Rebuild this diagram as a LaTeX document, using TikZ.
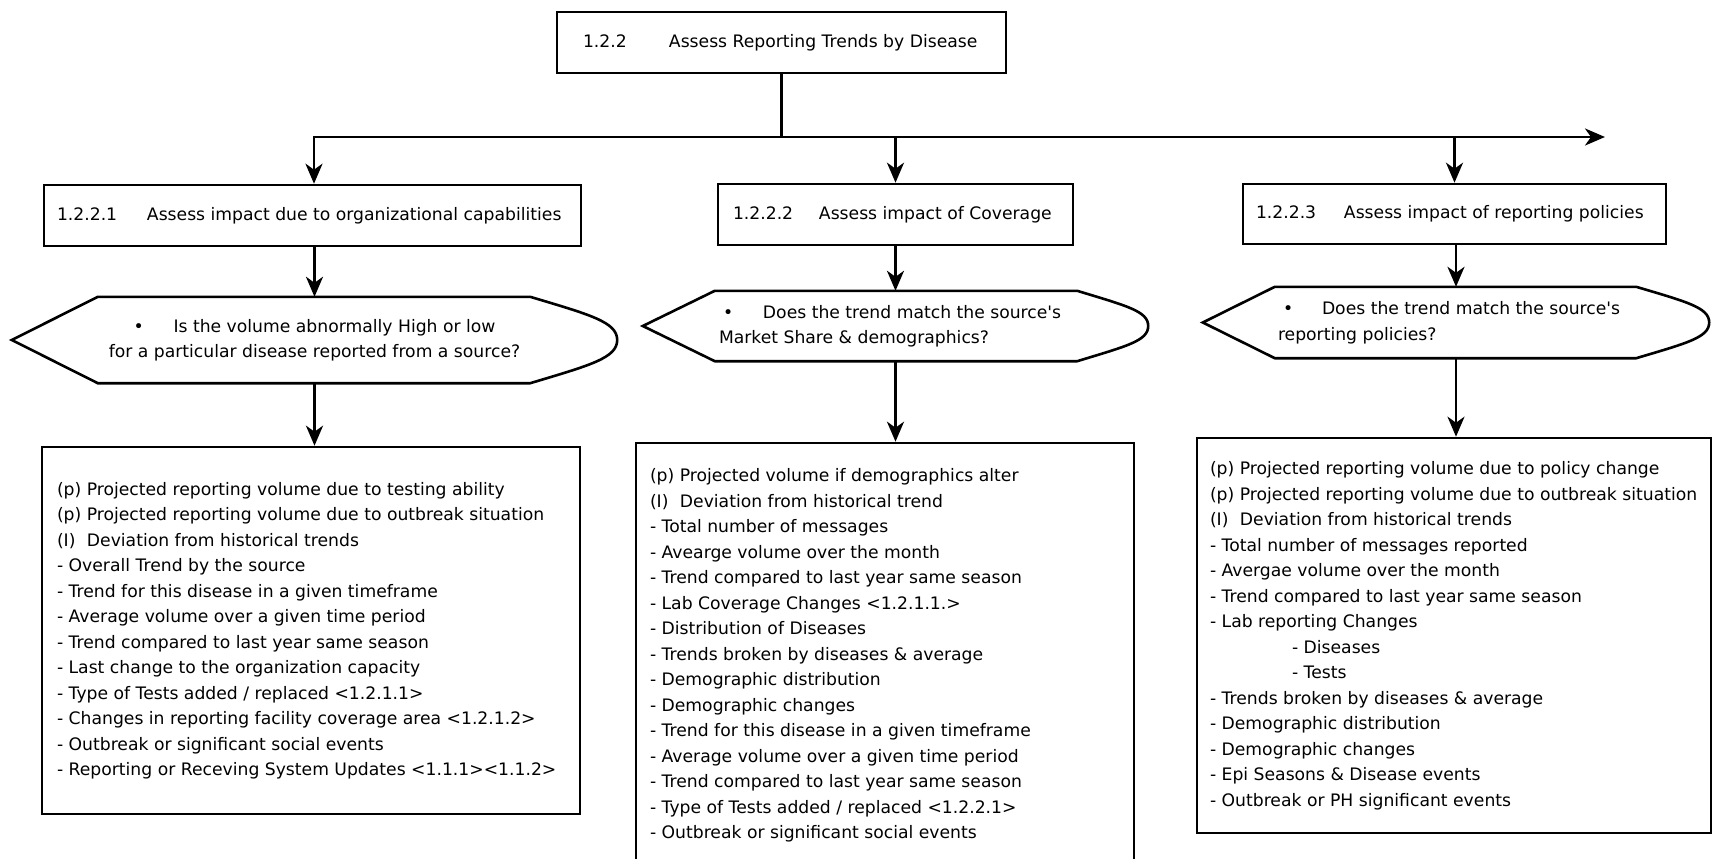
\documentclass[tikz,border=0pt]{standalone}
\usepackage{fontspec}
\setmainfont{DejaVu Sans}
\usetikzlibrary{arrows.meta,calc}

% display shape: pointed on the left, rounded on the right
% #1 node, #2 left inset, #3 right inset, #4 control offset of the rounded side
\newcommand\dispshape[4]{%
  \draw[outline] (#1.west) -- ($(#1.north west)+(#2,0)$)
    -- ($(#1.north east)+(-#3,0)$)
    .. controls +({0.69*#3},#4) and +(0,-#4) .. (#1.east)
    .. controls +(0,#4) and +({0.69*#3},-#4) .. ($(#1.south east)+(-#3,0)$)
    -- ($(#1.south west)+(#2,0)$) -- cycle;}

\begin{document}
\begin{tikzpicture}[x=1pt,y=-1pt,
  every node/.style={font=\fontsize{17.2}{25.5}\selectfont, inner sep=0pt},
  frame/.style={draw, line width=2.6pt, rectangle},
  outline/.style={line width=2.6pt, line join=miter},
  conn/.style={line width=2.6pt},
  arr/.style={conn, -{Stealth[length=20pt,width=17pt,inset=6pt]}}]

\clip (0,0) rectangle (1714,859);
\fill[white] (0,0) rectangle (1714,859);

% top task
\node[frame, minimum width=449pt, minimum height=61pt] (top) at (781.5,42.5)
  {\makebox[397pt][l]{\makebox[86pt][l]{1.2.2}Assess Reporting Trends by Disease}};

% sub tasks
\node[frame, minimum width=537pt, minimum height=61pt] (b1) at (312.5,215.5)
  {\makebox[511pt][l]{\makebox[90pt][l]{1.2.2.1}Assess impact due to organizational capabilities}};
\node[frame, minimum width=355pt, minimum height=61pt] (b2) at (895.5,214.5)
  {\makebox[325pt][l]{\makebox[86pt][l]{1.2.2.2}Assess impact of Coverage}};
\node[frame, minimum width=423pt, minimum height=60pt] (b3) at (1454.5,214)
  {\makebox[397pt][l]{\makebox[88pt][l]{1.2.2.3}Assess impact of reporting policies}};

% questions
\node[minimum width=605pt, minimum height=86pt] (q1) at (314.5,340)
  {\begin{tabular}{@{}c@{}}\makebox[40pt][l]{•}Is the volume abnormally High or low\\
   for a particular disease reported from a source?\end{tabular}};
\node[minimum width=505pt, minimum height=70pt] (q2) at (895.5,326)
  {\makebox[353pt][l]{\begin{tabular}{@{}l@{}}\makebox[44pt][l]{\hspace*{4pt}•}Does the trend match the source\textquotesingle s\\
   Market Share \& demographics?\end{tabular}}};
\node[minimum width=506pt, minimum height=71pt] (q3) at (1456,322.5)
  {\makebox[356pt][l]{\begin{tabular}{@{}l@{}}\makebox[44pt][l]{\hspace*{5pt}•}Does the trend match the source\textquotesingle s\\
   reporting policies?\end{tabular}}};
\dispshape{q1}{86}{87}{18}
\dispshape{q2}{72}{71}{15}
\dispshape{q3}{72}{73}{15}

% measures
\node[frame, minimum width=538pt, minimum height=367pt] (d1) at (311,630.5)
  {\makebox[508pt][l]{\begin{tabular}{@{}l@{}}
   (p) Projected reporting volume due to testing ability\\
   (p) Projected reporting volume due to outbreak situation\\
   (I)\hspace{6pt} Deviation from historical trends\\
   - Overall Trend by the source\\
   - Trend for this disease in a given timeframe\\
   - Average volume over a given time period\\
   - Trend compared to last year same season\\
   - Last change to the organization capacity\\
   - Type of Tests added / replaced <1.2.1.1>\\
   - Changes in reporting facility coverage area <1.2.1.2>\\
   - Outbreak or significant social events\\
   - Reporting or Receving System Updates <1.1.1><1.1.2>
   \end{tabular}}};
\node[frame, minimum width=498pt, minimum height=424pt] (d2) at (885,655)
  {\makebox[470pt][l]{\raisebox{3pt}{\begin{tabular}{@{}l@{}}
   (p) Projected volume if demographics alter\\
   (I)\hspace{6pt} Deviation from historical trend\\
   - Total number of messages\\
   - Avearge volume over the month\\
   - Trend compared to last year same season\\
   - Lab Coverage Changes <1.2.1.1.>\\
   - Distribution of Diseases\\
   - Trends broken by diseases \& average\\
   - Demographic distribution\\
   - Demographic changes\\
   - Trend for this disease in a given timeframe\\
   - Average volume over a given time period\\
   - Trend compared to last year same season\\
   - Type of Tests added / replaced <1.2.2.1>\\
   - Outbreak or significant social events
   \end{tabular}}}};
\node[frame, minimum width=514pt, minimum height=395pt] (d3) at (1454,635.5)
  {\makebox[488pt][l]{\begin{tabular}{@{}l@{}}
   (p) Projected reporting volume due to policy change\\
   (p) Projected reporting volume due to outbreak situation\\
   (I)\hspace{6pt} Deviation from historical trends\\
   - Total number of messages reported\\
   - Avergae volume over the month\\
   - Trend compared to last year same season\\
   - Lab reporting Changes\\
   \hspace*{82pt}- Diseases\\
   \hspace*{82pt}- Tests\\
   - Trends broken by diseases \& average\\
   - Demographic distribution\\
   - Demographic changes\\
   - Epi Seasons \& Disease events\\
   - Outbreak or PH significant events
   \end{tabular}}};

% connectors
\coordinate (busL) at (314,137);
\coordinate (busR) at (1605,137);
\draw[conn] (top.south) -- (top.south |- busL);
\draw[arr] (top.south |- busL) -- (busR);
\draw[arr] (top.south |- busL) -- (busL) -- (busL |- b1.north);
\draw[arr] (b2.north |- busL) -- (b2.north);
\draw[arr] (b3.north |- busL) -- (b3.north);

\draw[arr] (q1.north |- b1.south) -- (q1.north);
\draw[arr] (q2.north |- b2.south) -- (q2.north);
\draw[arr] (q3.north |- b3.south) -- (q3.north);

\draw[arr] (q1.south) -- (q1.south |- d1.north);
\draw[arr] (q2.south) -- (q2.south |- d2.north);
\draw[arr] (q3.south) -- (q3.south |- d3.north);
\end{tikzpicture}
\end{document}
